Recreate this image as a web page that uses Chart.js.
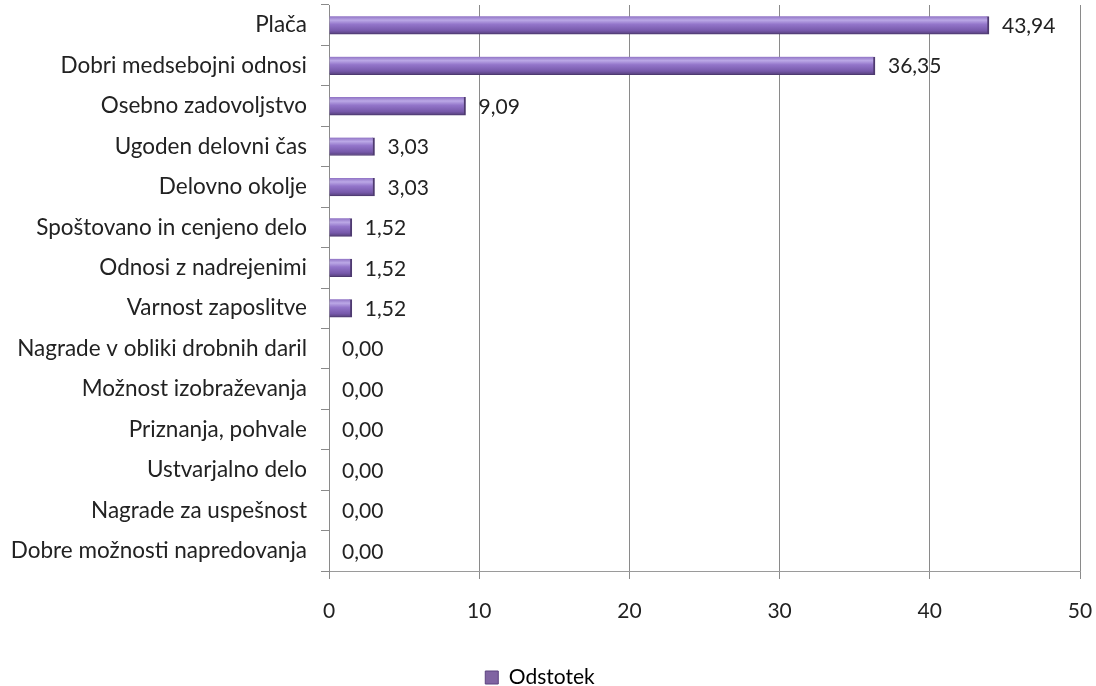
<!DOCTYPE html>
<html>
<head>
<meta charset="utf-8">
<script src="https://cdn.jsdelivr.net/npm/chart.js@4.4.1/dist/chart.umd.min.js"></script>
<style>
  html, body { margin: 0; padding: 0; background: #fff; }
</style>
</head>
<body>
<canvas id="barChart" width="1096" height="686"></canvas>
<script>
// podatki
const categories = [
  'Plača',
  'Dobri medsebojni odnosi',
  'Osebno zadovoljstvo',
  'Ugoden delovni čas',
  'Delovno okolje',
  'Spoštovano in cenjeno delo',
  'Odnosi z nadrejenimi',
  'Varnost zaposlitve',
  'Nagrade v obliki drobnih daril',
  'Možnost izobraževanja',
  'Priznanja, pohvale',
  'Ustvarjalno delo',
  'Nagrade za uspešnost',
  'Dobre možnosti napredovanja'
];
const values = [43.94, 36.35, 9.09, 3.03, 3.03, 1.52, 1.52, 1.52, 0, 0, 0, 0, 0, 0];
const seriesName = 'Odstotek';
const xMin = 0, xMax = 50, xStep = 10;

const fontFam = 'Lato, "Open Sans", sans-serif';
const textCol = '#222222';

function barFill(c) {
  const chart = c.chart;
  const y = chart.scales.y;
  if (!y || c.dataIndex === undefined) return '#8064A2';
  const cy = y.getPixelForValue(c.dataIndex);
  const g = chart.ctx.createLinearGradient(0, cy - 9, 0, cy + 9);
  g.addColorStop(0, '#8f72c4');
  g.addColorStop(0.22, '#bba8e6');
  g.addColorStop(0.45, '#9375ca');
  g.addColorStop(0.8, '#7759ab');
  g.addColorStop(1, '#55407a');
  return g;
}

const valueLabels = {
  id: 'valueLabels',
  afterDatasetsDraw(chart) {
    const ctx = chart.ctx;
    const meta = chart.getDatasetMeta(0);
    ctx.save();
    ctx.font = '21px ' + fontFam;
    ctx.fillStyle = textCol;
    ctx.textBaseline = 'middle';
    ctx.textAlign = 'left';
    meta.data.forEach((bar, i) => {
      ctx.fillText(values[i].toFixed(2).replace('.', ','), bar.x + 13, bar.y + 1);
    });
    ctx.restore();
  }
};

new Chart(document.getElementById('barChart'), {
  type: 'bar',
  data: {
    labels: categories,
    datasets: [{
      label: seriesName,
      data: values,
      backgroundColor: barFill,
      borderColor: '#4e3a70',
      borderWidth: { top: 0, right: 2, bottom: 1, left: 0 },
      borderSkipped: 'start',
      barThickness: 18
    }]
  },
  options: {
    indexAxis: 'y',
    responsive: false,
    animation: false,
    devicePixelRatio: 1,
    layout: { padding: { top: 5, right: 16, left: 0, bottom: -12 } },
    scales: {
      x: {
        min: xMin,
        max: xMax,
        ticks: { stepSize: xStep, color: textCol, font: { family: fontFam, size: 21 }, padding: 20 },
        grid: { color: '#8a8a8a', lineWidth: 1, tickLength: 8 },
        border: { color: '#9a9a9a' },
        afterFit(s) { s.height = 96; s.paddingLeft = 0; s.paddingRight = 0; }
      },
      y: {
        ticks: { color: textCol, font: { family: fontFam, size: 22.5 }, padding: 14 },
        grid: { offset: true, drawOnChartArea: false, color: '#8a8a8a', tickLength: 8 },
        border: { color: '#8a8a8a' },
        afterFit(s) { s.width = 329; s.paddingTop = 0; s.paddingBottom = 0; }
      }
    },
    plugins: {
      legend: {
        position: 'bottom',
        labels: {
          color: textCol,
          font: { family: fontFam, size: 21 },
          boxWidth: 13,
          boxHeight: 13,
          padding: 0,
          generateLabels(chart) {
            return [{ text: seriesName, fillStyle: '#8064A2', strokeStyle: '#5b437f', lineWidth: 1, datasetIndex: 0 }];
          }
        }
      },
      tooltip: { enabled: false }
    }
  },
  plugins: [valueLabels]
});
</script>
</body>
</html>
